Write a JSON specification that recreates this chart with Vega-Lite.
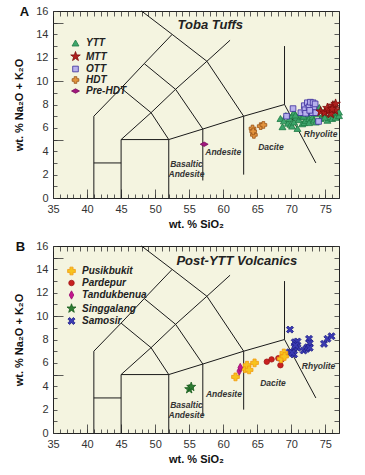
{
  "$schema": "https://vega.github.io/schema/vega-lite/v6.json",
  "padding": {"left": 13, "top": 4, "right": 4, "bottom": 4},
  "spacing": 9,
  "config": {
    "view": {"fill": "#f4f4e0", "stroke": "#222222", "strokeWidth": 1},
    "font": "Liberation Sans",
    "axis": {"grid": false, "domain": false, "labelFont": "Liberation Sans", "labelFontSize": 11, "labelColor": "#333333", "tickColor": "#333333", "tickWidth": 0.8, "titleFont": "Liberation Sans", "titleFontSize": 11, "titleFontWeight": "bold", "titleColor": "#111111", "labelFlush": false, "labelOverlap": false},
    "legend": {"labelFont": "Liberation Sans", "labelFontSize": 10, "labelFontStyle": "italic", "labelFontWeight": "bold", "labelColor": "#222222", "rowPadding": 1, "symbolStrokeWidth": 0.8, "padding": 0, "labelOffset": 5}
  },
  "resolve": {"scale": {"x": "independent", "y": "independent", "fill": "independent", "stroke": "independent", "shape": "independent", "size": "independent"}},
  "datasets": {
    "tas": [
      {"seg": 1, "o": 1, "x": 41, "y": 0}, {"seg": 1, "o": 2, "x": 41, "y": 7}, {"seg": 1, "o": 3, "x": 45, "y": 9.4}, {"seg": 1, "o": 4, "x": 48.4, "y": 11.5}, {"seg": 1, "o": 5, "x": 52.5, "y": 14}, {"seg": 1, "o": 6, "x": 48, "y": 16},
      {"seg": 2, "o": 1, "x": 41, "y": 3}, {"seg": 2, "o": 2, "x": 45, "y": 3},
      {"seg": 3, "o": 1, "x": 45, "y": 0}, {"seg": 3, "o": 2, "x": 45, "y": 5}, {"seg": 3, "o": 3, "x": 49.4, "y": 7.3}, {"seg": 3, "o": 4, "x": 53, "y": 9.3}, {"seg": 3, "o": 5, "x": 57.6, "y": 11.7}, {"seg": 3, "o": 6, "x": 61, "y": 13.5},
      {"seg": 4, "o": 1, "x": 45, "y": 5}, {"seg": 4, "o": 2, "x": 52, "y": 5}, {"seg": 4, "o": 3, "x": 57, "y": 5.9}, {"seg": 4, "o": 4, "x": 63, "y": 7}, {"seg": 4, "o": 5, "x": 69, "y": 8}, {"seg": 4, "o": 6, "x": 73.6, "y": 3},
      {"seg": 5, "o": 1, "x": 52, "y": 0}, {"seg": 5, "o": 2, "x": 52, "y": 5}, {"seg": 5, "o": 3, "x": 49.4, "y": 7.3}, {"seg": 5, "o": 4, "x": 45, "y": 9.4},
      {"seg": 6, "o": 1, "x": 57, "y": 1.5}, {"seg": 6, "o": 2, "x": 57, "y": 5.9}, {"seg": 6, "o": 3, "x": 53, "y": 9.3}, {"seg": 6, "o": 4, "x": 48.4, "y": 11.5},
      {"seg": 7, "o": 1, "x": 63, "y": 2}, {"seg": 7, "o": 2, "x": 63, "y": 7}, {"seg": 7, "o": 3, "x": 57.6, "y": 11.7}, {"seg": 7, "o": 4, "x": 52.5, "y": 14},
      {"seg": 8, "o": 1, "x": 69, "y": 8}, {"seg": 8, "o": 2, "x": 69, "y": 13}
    ],
    "toba": [
      {"s": "YTT", "x": 68.4, "y": 6.8}, {"s": "YTT", "x": 68.7, "y": 6.1}, {"s": "YTT", "x": 68.9, "y": 6.6}, {"s": "YTT", "x": 69.2, "y": 7.05}, {"s": "YTT", "x": 69.5, "y": 6.4}, {"s": "YTT", "x": 69.7, "y": 6.8}, {"s": "YTT", "x": 69.9, "y": 6.3}, {"s": "YTT", "x": 70.1, "y": 7.05}, {"s": "YTT", "x": 70.1, "y": 6.15}, {"s": "YTT", "x": 70.4, "y": 6.5}, {"s": "YTT", "x": 70.4, "y": 7.35}, {"s": "YTT", "x": 70.7, "y": 6.9}, {"s": "YTT", "x": 70.9, "y": 5.95}, {"s": "YTT", "x": 71.1, "y": 6.7}, {"s": "YTT", "x": 71.3, "y": 7.2}, {"s": "YTT", "x": 71.6, "y": 6.95}, {"s": "YTT", "x": 71.6, "y": 6.35}, {"s": "YTT", "x": 71.9, "y": 6.45}, {"s": "YTT", "x": 72.1, "y": 6.65}, {"s": "YTT", "x": 72.3, "y": 7.1}, {"s": "YTT", "x": 72.6, "y": 6.8}, {"s": "YTT", "x": 72.6, "y": 6.45}, {"s": "YTT", "x": 73.1, "y": 6.95}, {"s": "YTT", "x": 73.3, "y": 6.65}, {"s": "YTT", "x": 73.6, "y": 6.5}, {"s": "YTT", "x": 73.8, "y": 7.2}, {"s": "YTT", "x": 74.1, "y": 7.75}, {"s": "YTT", "x": 74.3, "y": 6.8}, {"s": "YTT", "x": 74.6, "y": 7.1}, {"s": "YTT", "x": 75.0, "y": 7.05}, {"s": "YTT", "x": 75.3, "y": 6.65}, {"s": "YTT", "x": 75.5, "y": 6.95}, {"s": "YTT", "x": 75.8, "y": 7.6}, {"s": "YTT", "x": 76.0, "y": 6.8}, {"s": "YTT", "x": 76.3, "y": 8.05}, {"s": "YTT", "x": 76.5, "y": 7.2}, {"s": "YTT", "x": 76.5, "y": 6.9}, {"s": "YTT", "x": 77.0, "y": 7.05}, {"s": "YTT", "x": 77.0, "y": 7.35}, {"s": "YTT", "x": 75.9, "y": 7.3}, {"s": "YTT", "x": 74.9, "y": 6.9}, {"s": "YTT", "x": 73.0, "y": 7.3}, {"s": "YTT", "x": 71.8, "y": 7.0}, {"s": "YTT", "x": 70.6, "y": 7.1},
      {"s": "OTT", "x": 69.3, "y": 7.0}, {"s": "OTT", "x": 70.25, "y": 7.65}, {"s": "OTT", "x": 71.4, "y": 7.3}, {"s": "OTT", "x": 71.9, "y": 7.9}, {"s": "OTT", "x": 72.0, "y": 7.55}, {"s": "OTT", "x": 72.35, "y": 8.15}, {"s": "OTT", "x": 72.6, "y": 7.8}, {"s": "OTT", "x": 72.8, "y": 8.2}, {"s": "OTT", "x": 73.2, "y": 8.15}, {"s": "OTT", "x": 73.3, "y": 7.7}, {"s": "OTT", "x": 73.5, "y": 8.05}, {"s": "OTT", "x": 72.1, "y": 7.25}, {"s": "OTT", "x": 73.1, "y": 7.3}, {"s": "OTT", "x": 73.6, "y": 7.3}, {"s": "OTT", "x": 72.7, "y": 7.5}, {"s": "OTT", "x": 74.0, "y": 6.55},
      {"s": "MTT", "x": 74.3, "y": 7.4}, {"s": "MTT", "x": 74.9, "y": 7.3}, {"s": "MTT", "x": 75.5, "y": 7.5}, {"s": "MTT", "x": 75.3, "y": 7.7}, {"s": "MTT", "x": 76.1, "y": 7.9}, {"s": "MTT", "x": 76.4, "y": 7.5}, {"s": "MTT", "x": 75.8, "y": 7.2}, {"s": "MTT", "x": 76.5, "y": 8.05}, {"s": "MTT", "x": 76.0, "y": 7.6},
      {"s": "HDT", "x": 64.3, "y": 5.95}, {"s": "HDT", "x": 64.5, "y": 5.4}, {"s": "HDT", "x": 64.4, "y": 5.7}, {"s": "HDT", "x": 65.5, "y": 6.15}, {"s": "HDT", "x": 65.9, "y": 6.25},
      {"s": "Pre-HDT", "x": 57.2, "y": 4.6}
    ],
    "post": [
      {"s": "Samosir", "x": 69.8, "y": 8.85}, {"s": "Samosir", "x": 70.5, "y": 7.77}, {"s": "Samosir", "x": 70.9, "y": 7.83}, {"s": "Samosir", "x": 70.5, "y": 7.34}, {"s": "Samosir", "x": 70.9, "y": 7.29}, {"s": "Samosir", "x": 69.75, "y": 6.91}, {"s": "Samosir", "x": 70.4, "y": 6.72}, {"s": "Samosir", "x": 70.1, "y": 6.86}, {"s": "Samosir", "x": 71.8, "y": 7.06}, {"s": "Samosir", "x": 72.2, "y": 7.2}, {"s": "Samosir", "x": 72.4, "y": 7.34}, {"s": "Samosir", "x": 72.6, "y": 8.06}, {"s": "Samosir", "x": 72.7, "y": 7.68}, {"s": "Samosir", "x": 72.7, "y": 7.29}, {"s": "Samosir", "x": 74.8, "y": 7.63}, {"s": "Samosir", "x": 75.3, "y": 8.06}, {"s": "Samosir", "x": 75.9, "y": 8.28}, {"s": "Samosir", "x": 70.6, "y": 7.5},
      {"s": "Pardepur", "x": 66.4, "y": 6.1}, {"s": "Pardepur", "x": 67.1, "y": 6.3}, {"s": "Pardepur", "x": 68.1, "y": 6.4}, {"s": "Pardepur", "x": 68.4, "y": 5.8}, {"s": "Pardepur", "x": 68.6, "y": 6.3},
      {"s": "Pusikbukit", "x": 61.8, "y": 4.8}, {"s": "Pusikbukit", "x": 63.2, "y": 5.5}, {"s": "Pusikbukit", "x": 63.5, "y": 5.8}, {"s": "Pusikbukit", "x": 63.8, "y": 5.4}, {"s": "Pusikbukit", "x": 64.6, "y": 6.0}, {"s": "Pusikbukit", "x": 68.5, "y": 6.35}, {"s": "Pusikbukit", "x": 68.9, "y": 6.85}, {"s": "Pusikbukit", "x": 69.0, "y": 6.55},
      {"s": "Tandukbenua", "x": 62.35, "y": 5.3}, {"s": "Tandukbenua", "x": 62.5, "y": 5.6},
      {"s": "Singgalang", "x": 55.0, "y": 3.75}, {"s": "Singgalang", "x": 55.3, "y": 3.95}
    ]
  },
  "vconcat": [
    {
      "width": 286,
      "height": 187,
      "data": {"name": "tas"},
      "resolve": {"axis": {"x": "independent", "y": "independent"}},
      "layer": [
        {
          "mark": {"type": "line", "color": "#1a1a1a", "strokeWidth": 1},
          "encoding": {
            "x": {"field": "x", "type": "quantitative", "scale": {"domain": [35, 77], "nice": false, "zero": false},
              "axis": {"orient": "bottom", "values": [35,36,37,38,39,40,41,42,43,44,45,46,47,48,49,50,51,52,53,54,55,56,57,58,59,60,61,62,63,64,65,66,67,68,69,70,71,72,73,74,75,76,77], "tickSize": -4, "labelExpr": "datum.value % 5 == 0 ? datum.label : ''", "labelPadding": 9, "title": "wt. % SiO₂", "titlePadding": 4}},
            "y": {"field": "y", "type": "quantitative", "scale": {"domain": [0, 16], "nice": false, "zero": false},
              "axis": {"orient": "left", "values": [0,1,2,3,4,5,6,7,8,9,10,11,12,13,14,15,16], "tickSize": -4, "labelExpr": "datum.value % 2 == 0 ? datum.label : ''", "labelPadding": 9, "title": "wt. % Na₂O + K₂O", "titlePadding": 11}},
            "detail": {"field": "seg"},
            "order": {"field": "o"}
          }
        },
        {
          "mark": {"type": "point", "opacity": 0},
          "encoding": {
            "x": {"field": "x", "type": "quantitative", "scale": {"domain": [35, 77], "nice": false, "zero": false},
              "axis": {"orient": "bottom", "values": [35,40,45,50,55,60,65,70,75], "tickSize": -9, "labels": false, "title": null}},
            "y": {"field": "y", "type": "quantitative", "scale": {"domain": [0, 16], "nice": false, "zero": false},
              "axis": {"orient": "left", "values": [5,10,15], "tickSize": -10, "labels": false, "title": null}}
          }
        },
        {
          "mark": {"type": "point", "opacity": 0},
          "encoding": {
            "x": {"field": "x", "type": "quantitative", "scale": {"domain": [35, 77], "nice": false, "zero": false},
              "axis": {"orient": "top", "values": [35,36,37,38,39,40,41,42,43,44,45,46,47,48,49,50,51,52,53,54,55,56,57,58,59,60,61,62,63,64,65,66,67,68,69,70,71,72,73,74,75,76,77], "tickSize": -5, "labels": false, "title": null}},
            "y": {"field": "y", "type": "quantitative", "scale": {"domain": [0, 16], "nice": false, "zero": false},
              "axis": {"orient": "right", "values": [0,1,2,3,4,5,6,7,8,9,10,11,12,13,14,15,16], "tickSize": -5, "labels": false, "title": null}}
          }
        },
        {
          "data": {"name": "toba"},
          "mark": {"type": "point", "filled": true, "opacity": 1, "strokeWidth": 0.8},
          "encoding": {
            "x": {"field": "x", "type": "quantitative", "scale": {"domain": [35, 77], "nice": false, "zero": false}, "axis": null},
            "y": {"field": "y", "type": "quantitative", "scale": {"domain": [0, 16], "nice": false, "zero": false}, "axis": null},
            "fill": {"field": "s", "type": "nominal", "scale": {"domain": ["YTT", "MTT", "OTT", "HDT", "Pre-HDT"], "range": ["#3ea56b", "#b0201e", "#b7b0ec", "#e2943e", "#a2187e"]},
              "legend": {"title": null, "orient": "none", "legendX": 17, "legendY": 27}},
            "stroke": {"field": "s", "type": "nominal", "scale": {"domain": ["YTT", "MTT", "OTT", "HDT", "Pre-HDT"], "range": ["#1f7b45", "#7d0d0d", "#3a2c9a", "#9a5418", "#7a0d5d"]},
              "legend": {"title": null, "orient": "none", "legendX": 17, "legendY": 27}},
            "shape": {"field": "s", "type": "nominal", "scale": {"domain": ["YTT", "MTT", "OTT", "HDT", "Pre-HDT"], "range": ["triangle-up", "M0,-1L0.235,-0.324L0.951,-0.309L0.38,0.124L0.588,0.809L0,0.4L-0.588,0.809L-0.38,0.124L-0.951,-0.309L-0.235,-0.324Z", "square", "cross", "M-1,0L0,-0.55L1,0L0,0.55Z"]},
              "legend": {"title": null, "orient": "none", "legendX": 17, "legendY": 27}},
            "size": {"field": "s", "type": "nominal", "scale": {"type": "ordinal", "domain": ["YTT", "MTT", "OTT", "HDT", "Pre-HDT"], "range": [48, 100, 32, 45, 64]},
              "legend": {"title": null, "orient": "none", "legendX": 17, "legendY": 27}}
          }
        },
        {
          "data": {"values": [
            {"t": "Basaltic\nAndesite", "x": 54.6, "y": 2.93},
            {"t": "Andesite", "x": 60.0, "y": 3.93},
            {"t": "Dacite", "x": 67.0, "y": 4.34},
            {"t": "Rhyolite", "x": 74.3, "y": 5.5}
          ]},
          "mark": {"type": "text", "font": "Liberation Sans", "fontSize": 8.5, "fontStyle": "italic", "fontWeight": "bold", "color": "#333333", "lineBreak": "\n", "lineHeight": 10, "align": "center", "baseline": "middle"},
          "encoding": {
            "x": {"field": "x", "type": "quantitative", "scale": {"domain": [35, 77], "nice": false, "zero": false}, "axis": null},
            "y": {"field": "y", "type": "quantitative", "scale": {"domain": [0, 16], "nice": false, "zero": false}, "axis": null},
            "text": {"field": "t"}
          }
        },
        {
          "data": {"values": [{"t": "Toba Tuffs", "x": 58.1, "y": 14.8}]},
          "mark": {"type": "text", "font": "Liberation Sans", "fontSize": 13, "fontStyle": "italic", "fontWeight": "bold", "color": "#222222", "align": "center", "baseline": "middle"},
          "encoding": {
            "x": {"field": "x", "type": "quantitative", "scale": {"domain": [35, 77], "nice": false, "zero": false}, "axis": null},
            "y": {"field": "y", "type": "quantitative", "scale": {"domain": [0, 16], "nice": false, "zero": false}, "axis": null},
            "text": {"field": "t"}
          }
        },
        {
          "data": {"values": [{"t": "A", "x": 31.5, "y": 15.9}]},
          "mark": {"type": "text", "font": "Liberation Sans", "fontSize": 13, "fontWeight": "bold", "color": "#111111", "align": "right", "baseline": "middle"},
          "encoding": {
            "x": {"field": "x", "type": "quantitative", "scale": {"domain": [35, 77], "nice": false, "zero": false}, "axis": null},
            "y": {"field": "y", "type": "quantitative", "scale": {"domain": [0, 16], "nice": false, "zero": false}, "axis": null},
            "text": {"field": "t"}
          }
        }
      ]
    },
    {
      "width": 286,
      "height": 187,
      "data": {"name": "tas"},
      "resolve": {"axis": {"x": "independent", "y": "independent"}},
      "layer": [
        {
          "mark": {"type": "line", "color": "#1a1a1a", "strokeWidth": 1},
          "encoding": {
            "x": {"field": "x", "type": "quantitative", "scale": {"domain": [35, 77], "nice": false, "zero": false},
              "axis": {"orient": "bottom", "values": [35,36,37,38,39,40,41,42,43,44,45,46,47,48,49,50,51,52,53,54,55,56,57,58,59,60,61,62,63,64,65,66,67,68,69,70,71,72,73,74,75,76,77], "tickSize": -4, "labelExpr": "datum.value % 5 == 0 ? datum.label : ''", "labelPadding": 9, "title": "wt. % SiO₂", "titlePadding": 4}},
            "y": {"field": "y", "type": "quantitative", "scale": {"domain": [0, 16], "nice": false, "zero": false},
              "axis": {"orient": "left", "values": [0,1,2,3,4,5,6,7,8,9,10,11,12,13,14,15,16], "tickSize": -4, "labelExpr": "datum.value % 2 == 0 ? datum.label : ''", "labelPadding": 9, "title": "wt. % Na₂O + K₂O", "titlePadding": 11}},
            "detail": {"field": "seg"},
            "order": {"field": "o"}
          }
        },
        {
          "mark": {"type": "point", "opacity": 0},
          "encoding": {
            "x": {"field": "x", "type": "quantitative", "scale": {"domain": [35, 77], "nice": false, "zero": false},
              "axis": {"orient": "bottom", "values": [35,40,45,50,55,60,65,70,75], "tickSize": -9, "labels": false, "title": null}},
            "y": {"field": "y", "type": "quantitative", "scale": {"domain": [0, 16], "nice": false, "zero": false},
              "axis": {"orient": "left", "values": [5,10,15], "tickSize": -10, "labels": false, "title": null}}
          }
        },
        {
          "mark": {"type": "point", "opacity": 0},
          "encoding": {
            "x": {"field": "x", "type": "quantitative", "scale": {"domain": [35, 77], "nice": false, "zero": false},
              "axis": {"orient": "top", "values": [35,36,37,38,39,40,41,42,43,44,45,46,47,48,49,50,51,52,53,54,55,56,57,58,59,60,61,62,63,64,65,66,67,68,69,70,71,72,73,74,75,76,77], "tickSize": -5, "labels": false, "title": null}},
            "y": {"field": "y", "type": "quantitative", "scale": {"domain": [0, 16], "nice": false, "zero": false},
              "axis": {"orient": "right", "values": [0,1,2,3,4,5,6,7,8,9,10,11,12,13,14,15,16], "tickSize": -5, "labels": false, "title": null}}
          }
        },
        {
          "data": {"name": "post"},
          "mark": {"type": "point", "filled": true, "opacity": 1, "strokeWidth": 0.8},
          "encoding": {
            "x": {"field": "x", "type": "quantitative", "scale": {"domain": [35, 77], "nice": false, "zero": false}, "axis": null},
            "y": {"field": "y", "type": "quantitative", "scale": {"domain": [0, 16], "nice": false, "zero": false}, "axis": null},
            "fill": {"field": "s", "type": "nominal", "scale": {"domain": ["Pusikbukit", "Pardepur", "Tandukbenua", "Singgalang", "Samosir"], "range": ["#f7c31e", "#c92020", "#c4168e", "#2e7d32", "#3b3bb3"]},
              "legend": {"title": null, "orient": "none", "legendX": 13, "legendY": 20}},
            "stroke": {"field": "s", "type": "nominal", "scale": {"domain": ["Pusikbukit", "Pardepur", "Tandukbenua", "Singgalang", "Samosir"], "range": ["#f39a12", "#a01515", "#9a0f6e", "#175a1c", "#1e1e85"]},
              "legend": {"title": null, "orient": "none", "legendX": 13, "legendY": 20}},
            "shape": {"field": "s", "type": "nominal", "scale": {"domain": ["Pusikbukit", "Pardepur", "Tandukbenua", "Singgalang", "Samosir"], "range": ["cross", "circle", "M0,-1L0.55,0L0,1L-0.55,0Z", "M0,-1L0.235,-0.324L0.951,-0.309L0.38,0.124L0.588,0.809L0,0.4L-0.588,0.809L-0.38,0.124L-0.951,-0.309L-0.235,-0.324Z", "M0.495,-0.919L0.919,-0.495L0.424,0L0.919,0.495L0.495,0.919L0,0.424L-0.495,0.919L-0.919,0.495L-0.424,0L-0.919,-0.495L-0.495,-0.919L0,-0.424Z"]},
              "legend": {"title": null, "orient": "none", "legendX": 13, "legendY": 20}},
            "size": {"field": "s", "type": "nominal", "scale": {"type": "ordinal", "domain": ["Pusikbukit", "Pardepur", "Tandukbenua", "Singgalang", "Samosir"], "range": [60, 30, 70, 90, 60]},
              "legend": {"title": null, "orient": "none", "legendX": 13, "legendY": 20}}
          }
        },
        {
          "data": {"values": [
            {"t": "Basaltic\nAndesite", "x": 54.6, "y": 2.38},
            {"t": "Andesite", "x": 60.1, "y": 3.35},
            {"t": "Dacite", "x": 67.3, "y": 4.3},
            {"t": "Rhyolite", "x": 74.0, "y": 5.7}
          ]},
          "mark": {"type": "text", "font": "Liberation Sans", "fontSize": 8.5, "fontStyle": "italic", "fontWeight": "bold", "color": "#333333", "lineBreak": "\n", "lineHeight": 10, "align": "center", "baseline": "middle"},
          "encoding": {
            "x": {"field": "x", "type": "quantitative", "scale": {"domain": [35, 77], "nice": false, "zero": false}, "axis": null},
            "y": {"field": "y", "type": "quantitative", "scale": {"domain": [0, 16], "nice": false, "zero": false}, "axis": null},
            "text": {"field": "t"}
          }
        },
        {
          "data": {"values": [{"t": "Post-YTT Volcanics", "x": 62.0, "y": 14.75}]},
          "mark": {"type": "text", "font": "Liberation Sans", "fontSize": 13, "fontStyle": "italic", "fontWeight": "bold", "color": "#222222", "align": "center", "baseline": "middle"},
          "encoding": {
            "x": {"field": "x", "type": "quantitative", "scale": {"domain": [35, 77], "nice": false, "zero": false}, "axis": null},
            "y": {"field": "y", "type": "quantitative", "scale": {"domain": [0, 16], "nice": false, "zero": false}, "axis": null},
            "text": {"field": "t"}
          }
        },
        {
          "data": {"values": [{"t": "B", "x": 30.9, "y": 15.9}]},
          "mark": {"type": "text", "font": "Liberation Sans", "fontSize": 13, "fontWeight": "bold", "color": "#111111", "align": "right", "baseline": "middle"},
          "encoding": {
            "x": {"field": "x", "type": "quantitative", "scale": {"domain": [35, 77], "nice": false, "zero": false}, "axis": null},
            "y": {"field": "y", "type": "quantitative", "scale": {"domain": [0, 16], "nice": false, "zero": false}, "axis": null},
            "text": {"field": "t"}
          }
        }
      ]
    }
  ]
}
